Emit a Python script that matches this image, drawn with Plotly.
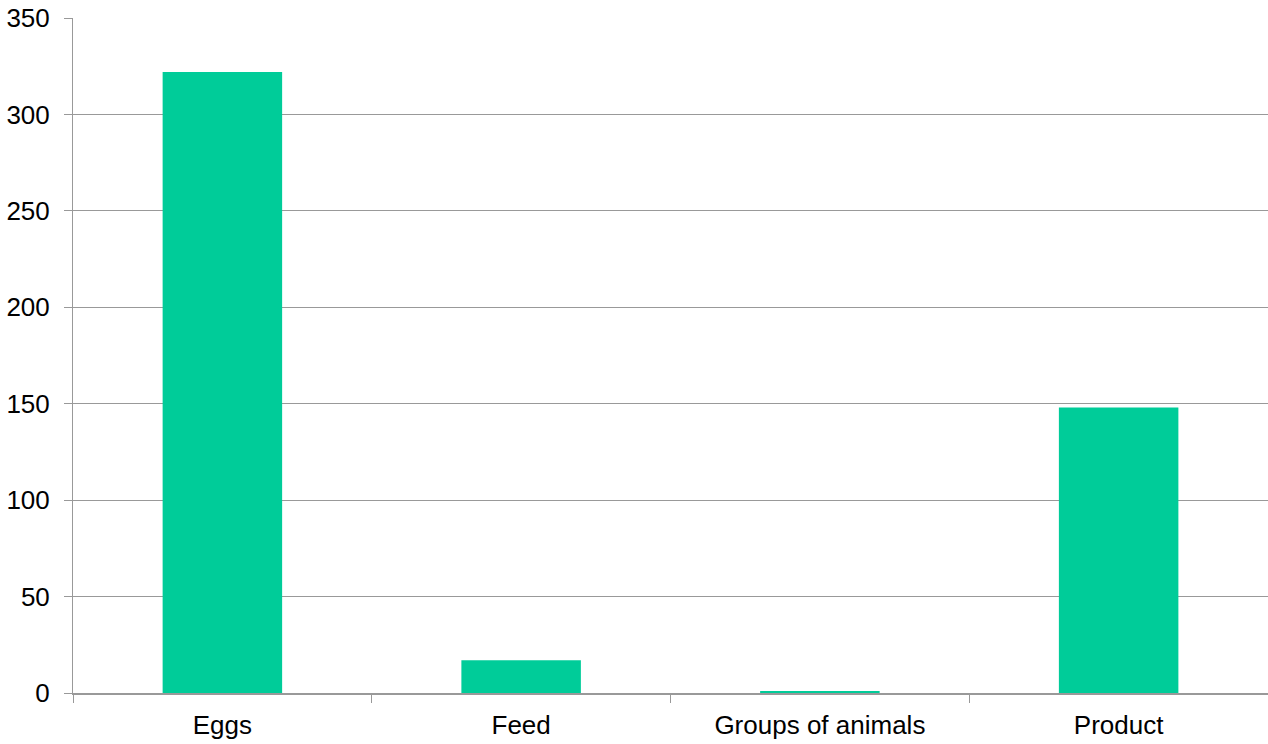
import plotly.graph_objects as go

categories = ["Eggs", "Feed", "Groups of animals", "Product"]
values = [322, 17, 1, 148]
y_ticks = [0, 50, 100, 150, 200, 250, 300, 350]

fig = go.Figure(go.Bar(x=categories, y=values, marker_color="#00CC99",
                       marker_line_width=0, width=0.4))

fig.update_layout(
    width=1268, height=744,
    margin=dict(l=73, r=0, t=18, b=51),
    paper_bgcolor="white", plot_bgcolor="white",
    font=dict(family="Liberation Sans, Arial, sans-serif", size=26, color="black"),
    showlegend=False,
)
fig.update_xaxes(
    type="category", showgrid=False, showline=True, linecolor="#999999", linewidth=2,
    ticks="outside", tickson="boundaries", ticklen=8, tickcolor="#999999", tickwidth=1,
    ticklabelstandoff=8,
)
fig.update_yaxes(
    range=[0, 350], tickvals=y_ticks, showgrid=True, gridcolor="#999999", gridwidth=1,
    showline=True, linecolor="#999999", linewidth=1, zeroline=False,
    ticks="outside", ticklen=8, tickcolor="#999999", tickwidth=1,
    ticklabelstandoff=9,
)
fig.write_html("out.html", config={"displayModeBar": False},
               post_script="document.body.style.margin='0';document.body.style.overflow='hidden';")
